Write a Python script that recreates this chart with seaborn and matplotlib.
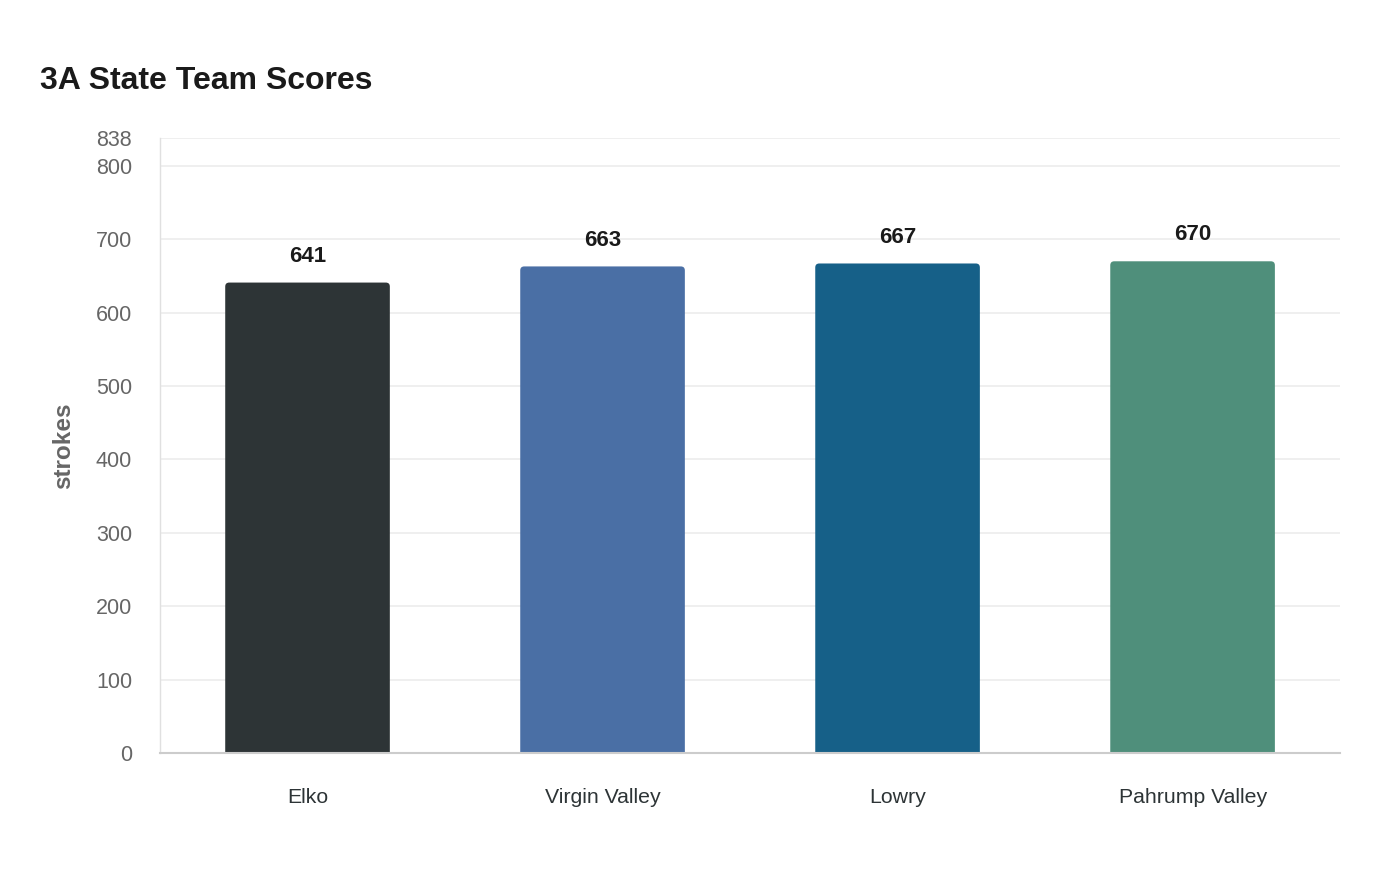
import matplotlib
matplotlib.use("Agg")
import matplotlib.pyplot as plt
from matplotlib.patches import FancyBboxPatch
import seaborn as sns
import pandas as pd

teams = ["Elko", "Virgin Valley", "Lowry", "Pahrump Valley"]
strokes = [641, 663, 667, 670]
colors = ["#2d3436", "#4a6fa5", "#166088", "#4f8f7b"]
yticks = [0, 100, 200, 300, 400, 500, 600, 700, 800, 838]

sns.set_theme(style="white")
plt.rcParams['font.family'] = ['Liberation Sans', 'DejaVu Sans']

df = pd.DataFrame({"team": teams, "strokes": strokes})

fig = plt.figure(figsize=(14, 8.8), dpi=100)
ax = fig.add_axes([0.1143, 0.1443, 0.8429, 0.6989])

sns.barplot(data=df, x="team", y="strokes", hue="team", palette=colors,
            width=0.558, legend=False, ax=ax, saturation=1)

ax.set_ylim(0, 838)
ax.set_xlim(-0.5, 3.5)

# round the top corners of the bars
px_x = 1 / 295.0
px_y = 838 / 615.0
for p in list(ax.patches):
    x, y = p.get_x(), p.get_y()
    w, h = p.get_width(), p.get_height()
    fc = p.get_facecolor()
    p.remove()
    r = 4 * px_x
    fb = FancyBboxPatch((x, y - 20), w, h + 20,
                        boxstyle=f"round,pad=0,rounding_size={r}",
                        mutation_aspect=px_y / px_x,
                        facecolor=fc, edgecolor="none", zorder=2)
    ax.add_patch(fb)

ax.set_yticks(yticks)
ax.set_yticklabels([str(t) for t in yticks], color="#666666", fontsize=15.5)
ax.tick_params(axis="y", length=0, pad=20)
ax.tick_params(axis="x", length=0, pad=25, labelsize=15.3, labelcolor="#2d3436")
for t in yticks:
    ax.axhline(t, color="#ececec", lw=1.2, zorder=0)
ax.set_axisbelow(True)

for s in ["top", "right"]:
    ax.spines[s].set_visible(False)
ax.spines["left"].set_color("#e0e0e0")
ax.spines["left"].set_linewidth(1)
ax.spines["left"].set_linestyle((0, (1, 1)))
ax.spines["bottom"].set_color("#cccccc")
ax.spines["bottom"].set_linewidth(1.5)
ax.spines["bottom"].set_zorder(3)

for i, v in enumerate(strokes):
    ax.text(i, v + 36, str(v), ha="center", va="center", fontsize=16,
            fontweight="bold", color="#1a1a1a")

ax.set_xlabel("")
ax.set_ylabel("strokes", fontsize=17.5, fontweight="bold", color="#666666", labelpad=15)

fig.text(40 / 1400, 1 - 81 / 880, "3A State Team Scores", fontsize=23,
         fontweight="bold", color="#1a1a1a", ha="left", va="center")

fig.savefig("out.png", dpi=100)
